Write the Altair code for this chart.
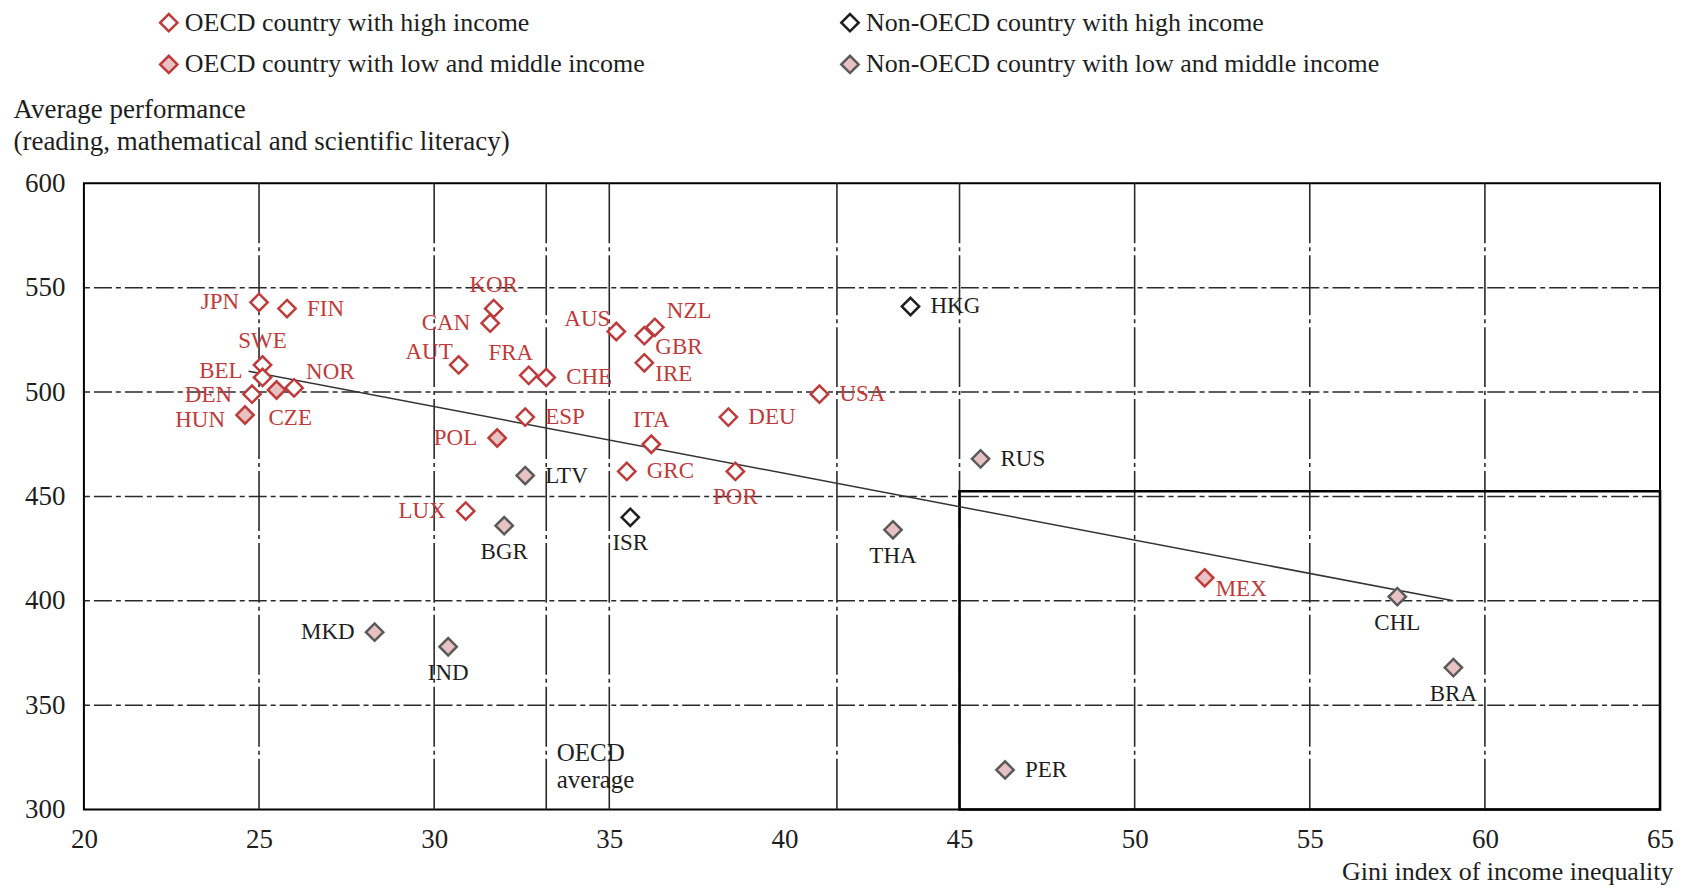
import altair as alt
import pandas as pd

# ---------------- data ----------------
codes = ["JPN", "FIN", "SWE", "BEL", "DEN", "NOR", "KOR", "CAN", "AUT", "FRA",
         "CHE", "AUS", "NZL", "GBR", "IRE", "USA", "DEU", "ESP", "ITA", "GRC",
         "POR", "LUX",
         "CZE", "HUN", "POL", "MEX",
         "HKG", "ISR",
         "LTV", "BGR", "MKD", "IND", "THA", "RUS", "CHL", "BRA", "PER"]
gini = [25.0, 25.8, 25.1, 25.1, 24.8, 26.0, 31.7, 31.6, 30.7, 32.7,
        33.2, 35.2, 36.3, 36.0, 36.0, 41.0, 38.4, 32.6, 36.2, 35.5,
        38.6, 30.9,
        25.5, 24.6, 31.8, 52.0,
        43.6, 35.6,
        32.6, 32.0, 28.3, 30.4, 43.1, 45.6, 57.5, 59.1, 46.3]
performance = [543, 540, 513, 507, 499, 502, 540, 533, 513, 508,
               507, 529, 531, 527, 514, 499, 488, 488, 475, 462,
               462, 443,
               501, 489, 478, 411,
               541, 440,
               460, 436, 385, 378, 434, 468, 402, 368, 319]

G1 = "OECD country with high income"
G2 = "Non-OECD country with high income"
G3 = "OECD country with low and middle income"
G4 = "Non-OECD country with low and middle income"
groups = [G1] * 22 + [G3] * 4 + [G2] * 2 + [G4] * 9
# legend is filled column by column: left column G1, G3; right column G2, G4
group_order = [G1, G3, G2, G4]

# label placement relative to its marker (r=right, l=left, t=top, b=bottom ...)
placement = ["l", "r", "t", "lu", "ldd", "tr", "t", "l", "tl", "tw",
             "r", "tl", "tr", "br", "br", "r", "r", "r", "t", "r",
             "b", "l",
             "bs", "ld", "l", "br",
             "r", "b",
             "r", "b", "l", "b", "b", "r", "b", "b", "r"]

vgrid = [25, 30, 33.2, 35, 41.5, 45, 50, 55, 60]
hgrid = [350, 400, 450, 500, 550]
x_ticks = [20, 25, 30, 35, 40, 45, 50, 55, 60, 65]
y_ticks = [300, 350, 400, 450, 500, 550, 600]

trend_x = [24.7, 59.1]
trend_y = [510, 400]

box_x, box_x2 = [45], [65]
box_y, box_y2 = [300], [452.5]

ann_x, ann_y = [33.5], [333]
ann_text = ["OECD\naverage"]

# ---------------- styles ----------------
FONT = "Liberation Serif"
RED = "#BF3A3A"
PINK = "#E8C2C2"
GRAY = "#5A5A5A"
DARK = "#1E1E1E"

df = pd.DataFrame({"code": codes, "gini": gini, "perf": performance,
                   "group": groups, "place": placement})

xs = alt.Scale(domain=[20, 65], nice=False, zero=False)
ys = alt.Scale(domain=[300, 600], nice=False, zero=False)

legend = alt.Legend(
    title=None, orient="none", legendX=72, legendY=-174, columns=2,
    columnPadding=191, rowPadding=14, padding=0,
    symbolType="diamond", symbolSize=300, symbolStrokeWidth=2.5,
    labelFont=FONT, labelFontSize=26, labelColor=DARK, labelLimit=900,
    labelOffset=3,
)

x_axis = alt.Axis(values=x_ticks, grid=False, domain=False, ticks=False,
                  labelFlush=False, labelPadding=17, labelFont=FONT,
                  labelFontSize=27, labelColor=DARK,
                  title="Gini index of income inequality", titleFont=FONT,
                  titleFontSize=26, titleFontWeight="normal", titleColor=DARK,
                  titleX=1591, titleY=62, titleAlign="right",
                  titleBaseline="middle", titleAnchor="end")
y_axis = alt.Axis(values=y_ticks, grid=False, domain=False, ticks=False,
                  labelPadding=19, labelFont=FONT, labelFontSize=27,
                  labelColor=DARK,
                  title=["Average performance",
                         "(reading, mathematical and scientific literacy)"],
                  titleFont=FONT, titleFontSize=27, titleFontWeight="normal",
                  titleColor=DARK, titleAngle=0, titleAlign="left",
                  titleBaseline="top", titleX=-71, titleY=-87,
                  titleLineHeight=32, titleAnchor="start")


def X(field):
    return alt.X(field, scale=xs, axis=x_axis)


def Y(field):
    return alt.Y(field, scale=ys, axis=y_axis)


vrules = alt.Chart(pd.DataFrame({"gx": vgrid})).mark_rule(
    color="#2A2A2A", strokeWidth=1.6, strokeDash=[60, 4, 4, 4]
).encode(x=X("gx:Q"))

hrules = alt.Chart(pd.DataFrame({"gy": hgrid})).mark_rule(
    color="#2A2A2A", strokeWidth=1.6, strokeDash=[18, 4, 5, 4]
).encode(y=Y("gy:Q"))

box = alt.Chart(pd.DataFrame({"bx": box_x, "bx2": box_x2, "by": box_y, "by2": box_y2})).mark_rect(
    fill=None, stroke="black", strokeWidth=2.6
).encode(x=X("bx:Q"), x2="bx2:Q", y=Y("by:Q"), y2="by2:Q")

trend = alt.Chart(pd.DataFrame({"tx": trend_x, "ty": trend_y})).mark_line(
    color="#333333", strokeWidth=1.5
).encode(x=X("tx:Q"), y=Y("ty:Q"))

ann = alt.Chart(pd.DataFrame({"ax": ann_x, "ay": ann_y, "t": ann_text})).mark_text(
    align="left", baseline="top", font=FONT, fontSize=25, lineHeight=27,
    color=DARK, lineBreak="\n"
).encode(x=X("ax:Q"), y=Y("ay:Q"), text="t:N")

points = alt.Chart(df).mark_point(shape="diamond", size=300, strokeWidth=2.5,
                                  opacity=1, filled=False).encode(
    x=X("gini:Q"),
    y=Y("perf:Q"),
    fill=alt.Fill("group:N", scale=alt.Scale(domain=group_order,
                                             range=["white", PINK, "white", PINK]),
                  legend=legend),
    stroke=alt.Stroke("group:N", scale=alt.Scale(domain=group_order,
                                                 range=[RED, RED, DARK, GRAY]),
                      legend=legend),
)

offsets = {
    "r": dict(align="left", dx=20, dy=0),
    "l": dict(align="right", dx=-20, dy=0),
    "lu": dict(align="right", dx=-20, dy=-6),
    "ld": dict(align="right", dx=-20, dy=5),
    "ldd": dict(align="right", dx=-20, dy=1),
    "t": dict(align="center", dx=0, dy=-24),
    "tw": dict(align="center", dx=-18, dy=-22),
    "b": dict(align="center", dx=0, dy=26),
    "tr": dict(align="left", dx=12, dy=-16),
    "tl": dict(align="right", dx=-6, dy=-13),
    "br": dict(align="left", dx=11, dy=11),
    "bs": dict(align="left", dx=-8, dy=28),
}

label_layers = []
for key, o in offsets.items():
    label_layers.append(
        alt.Chart(df).transform_filter(alt.datum.place == key).mark_text(
            font=FONT, fontSize=23, baseline="middle", **o
        ).encode(
            x=X("gini:Q"),
            y=Y("perf:Q"),
            text="code:N",
            color=alt.Color("group:N", scale=alt.Scale(domain=group_order,
                                                       range=[RED, RED, DARK, DARK]),
                            legend=None),
        )
    )

chart = alt.layer(vrules, hrules, box, trend, ann, points, *label_layers).properties(
    width=1578, height=627,
    padding={"left": 76, "top": 175, "right": 20, "bottom": 76},
    autosize=alt.AutoSizeParams(type="none"),
    background="white",
).configure_view(stroke="black", strokeWidth=2)

chart.save("out.html", embed_options={"renderer": "svg", "actions": False})
